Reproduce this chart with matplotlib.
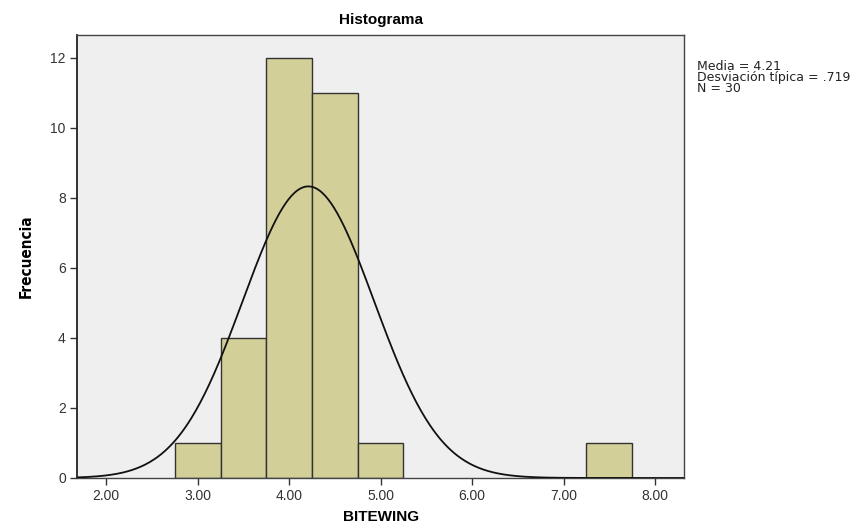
"""Histograma de BITEWING con curva normal (estilo SPSS)."""

import numpy as np
import matplotlib
matplotlib.use("Agg")
import matplotlib.pyplot as plt

plt.rcParams["font.family"] = ["Liberation Sans", "DejaVu Sans"]

# bins de ancho 0.5 y frecuencias
bin_left  = [2.75, 3.25, 3.75, 4.25, 4.75, 7.25]
counts    = [1, 4, 12, 11, 1, 1]
BIN_W     = 0.5

MEDIA = 4.21
SD    = 0.719
N     = 30

x_ticks = [2, 3, 4, 5, 6, 7, 8]
y_ticks = [0, 2, 4, 6, 8, 10, 12]

BAR_COL = "#d3cf98"
BG_COL  = "#efefef"

fig = plt.figure(figsize=(8.65, 5.27), dpi=100)
ax = fig.add_axes([0.089, 0.093, 0.702, 0.841])
ax.set_facecolor(BG_COL)

ax.bar(bin_left, counts, width=BIN_W, align="edge", color=BAR_COL,
       edgecolor="#333333", linewidth=1.0, zorder=2)

# curva normal ajustada
xs = np.linspace(1.68, 8.32, 400)
ys = N * BIN_W / (SD * np.sqrt(2 * np.pi)) * np.exp(-0.5 * ((xs - MEDIA) / SD) ** 2)
ax.plot(xs, ys, color="#111111", lw=1.3, zorder=3)

ax.set_xlim(1.68, 8.32)
ax.set_ylim(0, 12.65)
ax.set_xticks(x_ticks)
ax.set_xticklabels([f"{v:.2f}" for v in x_ticks], fontsize=10, color="#333333")
ax.set_yticks(y_ticks)
ax.set_yticklabels([str(v) for v in y_ticks], fontsize=10, color="#333333")
ax.tick_params(direction="out", length=5, width=1.0, color="#333333", pad=3)
for s in ax.spines.values():
    s.set_linewidth(1.0)
    s.set_color("#444444")
ax.spines["left"].set_color("#222222")
ax.spines["left"].set_linewidth(1.3)

ax.set_title("Histograma", fontsize=11, fontweight="bold", pad=8)
ax.set_xlabel("BITEWING", fontsize=11, fontweight="bold", labelpad=5)
ax.set_ylabel("Frecuencia", fontsize=11, fontweight="bold", labelpad=12,
              family=["DejaVu Sans", "Liberation Sans"], fontstretch="condensed")

fig.text(0.806, 0.886,
         f"Media = {MEDIA:.2f}\nDesviación típica = {SD:.3f}".replace("0.719", ".719")
         + f"\nN = {N}",
         fontsize=9, va="top", ha="left", color="#222222", linespacing=0.8,
         family=["DejaVu Sans", "Liberation Sans"])

plt.savefig("out.png", dpi=100)
